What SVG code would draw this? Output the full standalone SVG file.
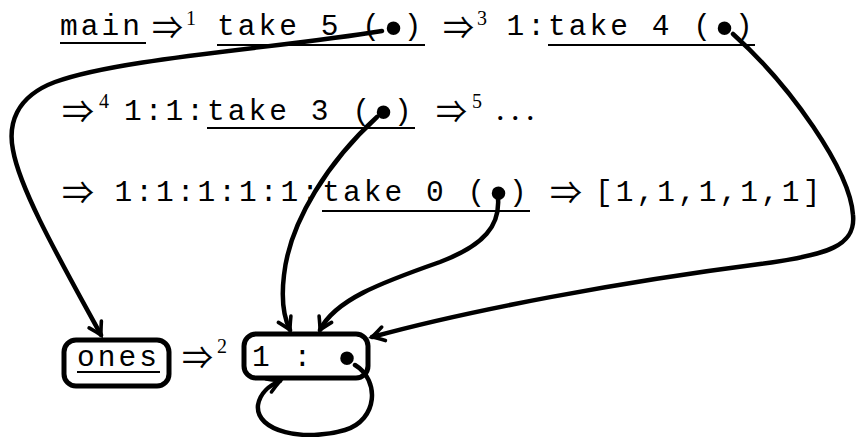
<svg xmlns="http://www.w3.org/2000/svg" width="856" height="437" viewBox="0 0 856 437">
<style>
.m{font-family:"Liberation Mono","Courier New",monospace;font-size:29.5px;letter-spacing:3.06px;fill:#000}
.b{font-family:"Liberation Sans",Arial,sans-serif;font-size:50px;fill:#000;text-anchor:middle}
.s{font-family:"Noto Sans CJK JP","DejaVu Serif",serif;font-size:32px;fill:#000}
.d{font-family:"Liberation Serif","DejaVu Serif",serif;font-size:34px;fill:#000;letter-spacing:6.5px}
.sup{font-family:"Liberation Serif","DejaVu Serif",serif;font-size:20px;fill:#000}
.u{stroke:#000;stroke-width:2.2}
.box{fill:none;stroke:#000;stroke-width:5}
.c{fill:none;stroke:#000;stroke-width:4.5;stroke-linecap:round}
</style>
<defs>
<marker id="ah" markerUnits="userSpaceOnUse" markerWidth="30" markerHeight="30" refX="0" refY="0" viewBox="-15 -15 30 30" orient="auto" overflow="visible">
<path d="M -12 -7 Q -4 -2 0 0 Q -4 2 -12 7" fill="none" stroke="#000" stroke-width="3.6" stroke-linecap="round"/>
</marker>
</defs>
<g id="row1">
<text class="m" x="60" y="35">main</text>
<line class="u" x1="60" y1="43" x2="146" y2="43"/>
<text class="s" x="152" y="39" textLength="31" lengthAdjust="spacingAndGlyphs">⇒</text>
<text class="sup" x="186" y="25">1</text>
<text class="m" x="217" y="35">take 5 (</text>
<text class="b" x="393.5" y="44.5">•</text>
<text class="m" x="403.8" y="35">)</text>
<line class="u" x1="217" y1="45" x2="425" y2="45"/>
<text class="s" x="443" y="39" textLength="31" lengthAdjust="spacingAndGlyphs">⇒</text>
<text class="sup" x="477" y="25">3</text>
<text class="m" x="506.5" y="35">1:take 4 (</text>
<text class="b" x="724.5" y="44.5">•</text>
<text class="m" x="734.9" y="35">)</text>
<line class="u" x1="548" y1="45" x2="755" y2="45"/>
</g>
<g id="row2">
<text class="s" x="62" y="123" textLength="32" lengthAdjust="spacingAndGlyphs">⇒</text>
<text class="sup" x="99" y="108">4</text>
<text class="m" x="124" y="120">1:1:take 3 (</text>
<text class="b" x="383.5" y="129">•</text>
<text class="m" x="393.9" y="120">)</text>
<line class="u" x1="207" y1="128" x2="415" y2="128"/>
<text class="s" x="436" y="123" textLength="31" lengthAdjust="spacingAndGlyphs">⇒</text>
<text class="sup" x="472" y="108">5</text>
<text class="d" x="496" y="120">...</text>
</g>
<g id="row3">
<text class="s" x="62" y="204" textLength="32" lengthAdjust="spacingAndGlyphs">⇒</text>
<text class="m" x="114.5" y="201">1:1:1:1:1:take 0 (</text>
<text class="b" x="498.6" y="210">•</text>
<text class="m" x="509" y="201">)</text>
<line class="u" x1="322" y1="211" x2="530" y2="211"/>
<text class="s" x="550" y="204" textLength="32" lengthAdjust="spacingAndGlyphs">⇒</text>
<text class="m" x="595" y="201">[1,1,1,1,1]</text>
</g>
<g id="ones">
<rect class="box" x="64" y="340" width="105" height="46" rx="12"/>
<text class="m" x="77" y="366">ones</text>
<line class="u" x1="77" y1="372" x2="160" y2="372"/>
</g>
<g id="step2">
<text class="s" x="182" y="369" textLength="31" lengthAdjust="spacingAndGlyphs">⇒</text>
<text class="sup" x="217" y="353">2</text>
</g>
<g id="cons">
<rect class="box" x="244" y="334" width="124" height="44" rx="12"/>
<text class="m" x="252" y="366">1 : </text>
<text class="b" x="347" y="375">•</text>
</g>
<g id="connectors">
<path class="c" marker-end="url(#ah)" d="M 382 31 C 280 48, 120 58, 55 82 C 15 97, 8 125, 13 150 C 20 190, 60 260, 101 335"/>
<path class="c" marker-end="url(#ah)" d="M 733 34 C 790 85, 850 170, 853 215 C 856 245, 830 255, 760 264 C 620 282, 470 310, 372 337"/>
<path class="c" marker-end="url(#ah)" d="M 377 117 C 330 160, 290 220, 284 275 C 281 300, 284 318, 290 330"/>
<path class="c" marker-end="url(#ah)" d="M 498 198 C 500 225, 485 245, 440 262 C 380 283, 335 300, 320 330"/>
<path class="c" marker-end="url(#ah)" d="M 355 365 C 380 380, 378 420, 345 430 C 305 442, 255 432, 258 405 C 260 393, 270 385, 280 381"/>
</g>
</svg>
